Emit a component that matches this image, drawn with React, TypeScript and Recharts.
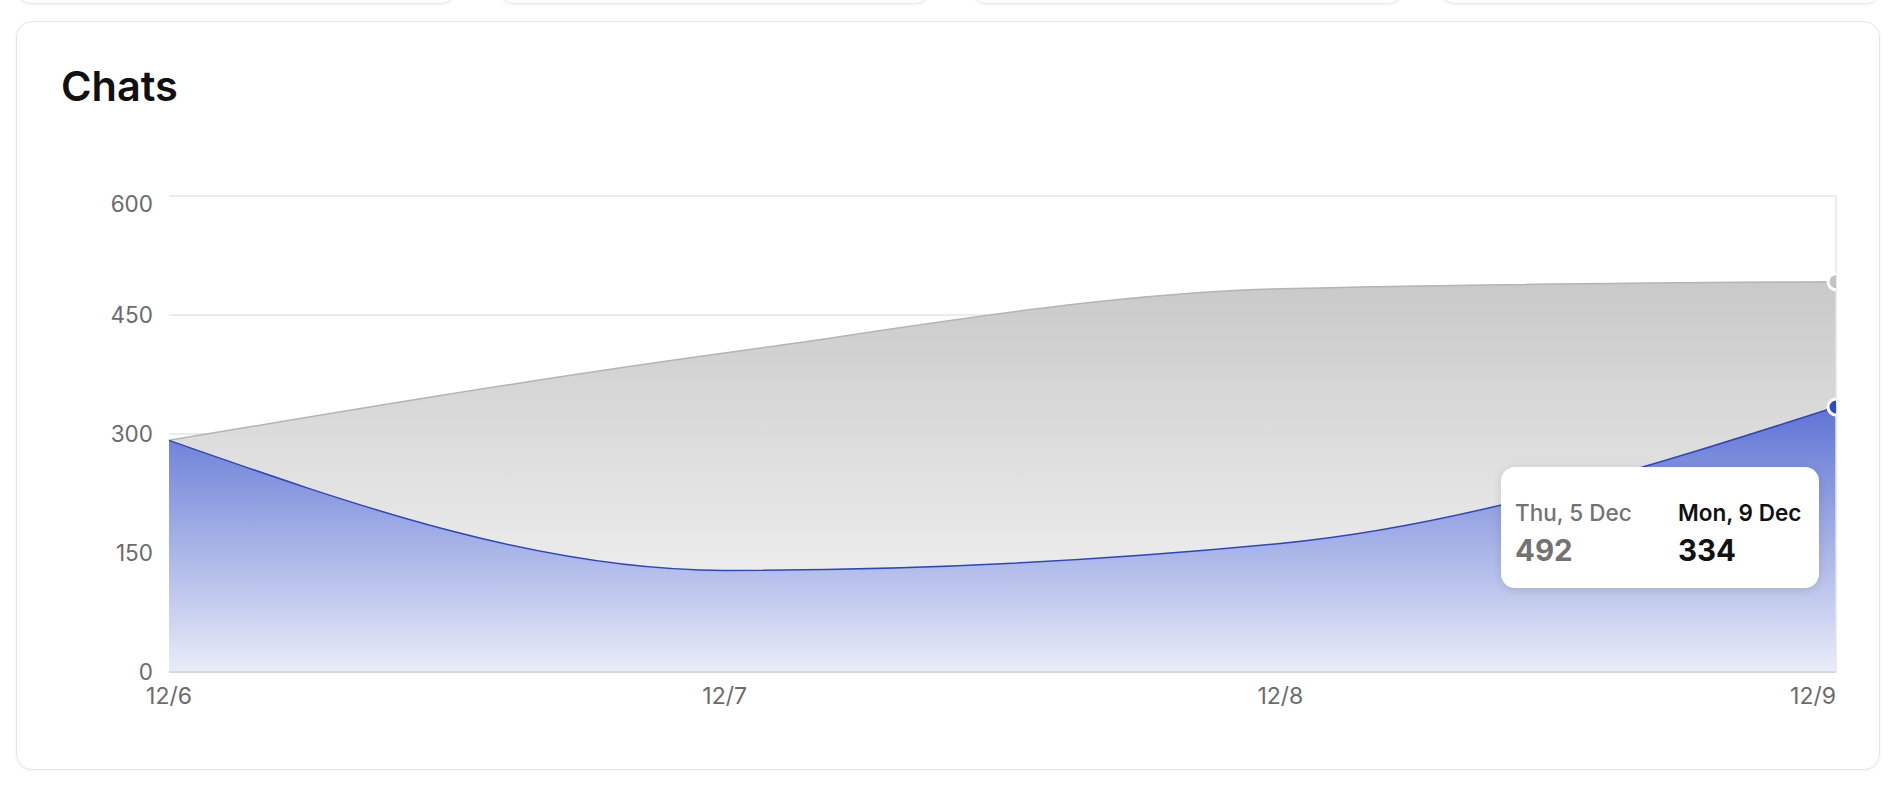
import React from 'react';
import {
  AreaChart,
  Area,
  XAxis,
  YAxis,
  CartesianGrid,
  Tooltip,
  ReferenceLine,
} from 'recharts';

const categories = ['12/6', '12/7', '12/8', '12/9'];
const currentValues = [292, 128, 162, 334];
const previousValues = [292, 402, 483, 492];
const currentDates = ['Fri, 6 Dec', 'Sat, 7 Dec', 'Sun, 8 Dec', 'Mon, 9 Dec'];
const previousDates = ['Mon, 2 Dec', 'Tue, 3 Dec', 'Wed, 4 Dec', 'Thu, 5 Dec'];
const yTicks = [0, 150, 300, 450, 600];

const data = categories.map((c, i) => ({
  day: c,
  current: currentValues[i],
  previous: previousValues[i],
  currentDate: currentDates[i],
  previousDate: previousDates[i],
}));

const FONT = 'Inter, "Noto Sans", sans-serif';
const lastCat = categories[categories.length - 1];
const topTick = yTicks[yTicks.length - 1];

function XTick(props: any) {
  const { x, y, payload } = props;
  const anchor = payload.value === lastCat ? 'end' : 'middle';
  return (
    <text x={x} y={y} dy="0.71em" textAnchor={anchor} fill="#6b6b6b" fontSize={23} fontFamily={FONT}>
      {payload.value}
    </text>
  );
}

function YTick(props: any) {
  const { x, y, payload } = props;
  // top label sits a bit below its grid line
  const shift = payload.value === topTick ? 8 : 0;
  return (
    <text x={x} y={y + shift} dy="0.355em" textAnchor="end" fill="#6b6b6b" fontSize={22.5} fontFamily={FONT}>
      {payload.value}
    </text>
  );
}

function halfDot(id: string, fill: string) {
  return (props: any) => {
    const { cx, cy } = props;
    if (cx == null || cy == null) return <g />;
    return (
      <g>
        <defs>
          <clipPath id={id}>
            <rect x={cx - 20} y={cy - 20} width={20} height={40} />
          </clipPath>
        </defs>
        <circle cx={cx} cy={cy} r={8} fill={fill} stroke="#fff" strokeWidth={3} clipPath={`url(#${id})`} />
      </g>
    );
  };
}

function ChatsTooltip({ payload }: any) {
  if (!payload || !payload.length) return null;
  const p = payload[0].payload;
  return (
    <div
      style={{
        width: 318,
        height: 121,
        boxSizing: 'border-box',
        padding: '33px 14px 0 14px',
        background: '#fff',
        borderRadius: 14,
        boxShadow: '0 2px 10px rgba(0,0,0,0.12)',
        display: 'flex',
        fontFamily: FONT,
      }}
    >
      <div style={{ width: 163 }}>
        <div style={{ fontSize: 22.5, lineHeight: '26px', color: '#737373', fontWeight: 500 }}>{p.previousDate}</div>
        <div style={{ fontSize: 29.5, lineHeight: '34px', marginTop: 7, fontWeight: 700, color: '#737373' }}>
          {p.previous}
        </div>
      </div>
      <div>
        <div style={{ fontSize: 22.5, lineHeight: '26px', color: '#111', fontWeight: 600 }}>{p.currentDate}</div>
        <div style={{ fontSize: 29.5, lineHeight: '34px', marginTop: 7, fontWeight: 700, color: '#111' }}>
          {p.current}
        </div>
      </div>
    </div>
  );
}

const topCards = [
  [16, 439],
  [498, 431],
  [971, 431],
  [1439, 441],
];

export default function App() {
  return (
    <div
      style={{
        position: 'absolute',
        left: 0,
        top: 0,
        width: 1904,
        height: 790,
        overflow: 'hidden',
        background: '#fff',
        fontFamily: FONT,
      }}
    >
      {topCards.map(([left, width]) => (
        <div
          key={left}
          style={{
            position: 'absolute',
            left,
            top: -60,
            width,
            height: 62,
            border: '1px solid #ececec',
            borderRadius: 16,
            boxShadow: '0 1px 3px rgba(0,0,0,0.06)',
            background: '#fff',
          }}
        />
      ))}
      <div
        style={{
          position: 'absolute',
          left: 16,
          top: 21,
          width: 1864,
          height: 749,
          boxSizing: 'border-box',
          border: '1px solid #e6e6e6',
          borderRadius: 16,
          boxShadow: '0 1px 3px rgba(0,0,0,0.05)',
          background: '#fff',
        }}
      />
      <div
        style={{
          position: 'absolute',
          left: 61,
          top: 66,
          fontSize: 41.5,
          lineHeight: '41px',
          fontWeight: 600,
          color: '#111',
        }}
      >
        Chats
      </div>
      <div style={{ position: 'absolute', left: 0, top: 0 }}>
        <AreaChart
          width={1904}
          height={790}
          data={data}
          margin={{ top: 196, right: 68, bottom: 78, left: 109 }}
        >
          <defs>
            <linearGradient id="gradPrev" x1="0" y1="0" x2="0" y2="1">
              <stop offset="0%" stopColor="#c7c7c7" stopOpacity={0.96} />
              <stop offset="100%" stopColor="#f8f8f8" stopOpacity={0.96} />
            </linearGradient>
            <linearGradient id="gradCur" x1="0" y1="0" x2="0" y2="1">
              <stop offset="0%" stopColor="#5f74d4" />
              <stop offset="100%" stopColor="#e9ecf8" />
            </linearGradient>
          </defs>
          <CartesianGrid vertical={false} stroke="#e4e4e4" />
          <XAxis
            dataKey="day"
            height={40}
            axisLine={{ stroke: '#d0d0d6', strokeWidth: 1.5 }}
            tickLine={false}
            tickMargin={10}
            tick={<XTick />}
            interval={0}
          />
          <YAxis
            width={60}
            domain={[0, 600]}
            ticks={yTicks}
            axisLine={false}
            tickLine={false}
            tickMargin={10}
            tick={<YTick />}
          />
          <Area
            type="monotone"
            dataKey="previous"
            stroke="#b4b4b4"
            strokeWidth={1.5}
            fill="url(#gradPrev)"
            fillOpacity={1}
            dot={false}
            activeDot={halfDot('clipPrevDot', '#c2c2c2')}
            isAnimationActive={false}
          />
          <Area
            type="monotone"
            dataKey="current"
            stroke="#2c46c2"
            strokeWidth={1.5}
            fill="url(#gradCur)"
            fillOpacity={1}
            dot={false}
            activeDot={halfDot('clipCurDot', '#2f4bc6')}
            isAnimationActive={false}
          />
          <CartesianGrid vertical={false} stroke="rgba(0,0,0,0.05)" />
          <ReferenceLine x={lastCat} stroke="#e4e4e7" strokeWidth={1.5} />
          <Tooltip
            defaultIndex={3}
            active
            cursor={false}
            position={{ x: 1501, y: 467 }}
            isAnimationActive={false}
            wrapperStyle={{ outline: 'none' }}
            content={<ChatsTooltip />}
          />
        </AreaChart>
      </div>
    </div>
  );
}
